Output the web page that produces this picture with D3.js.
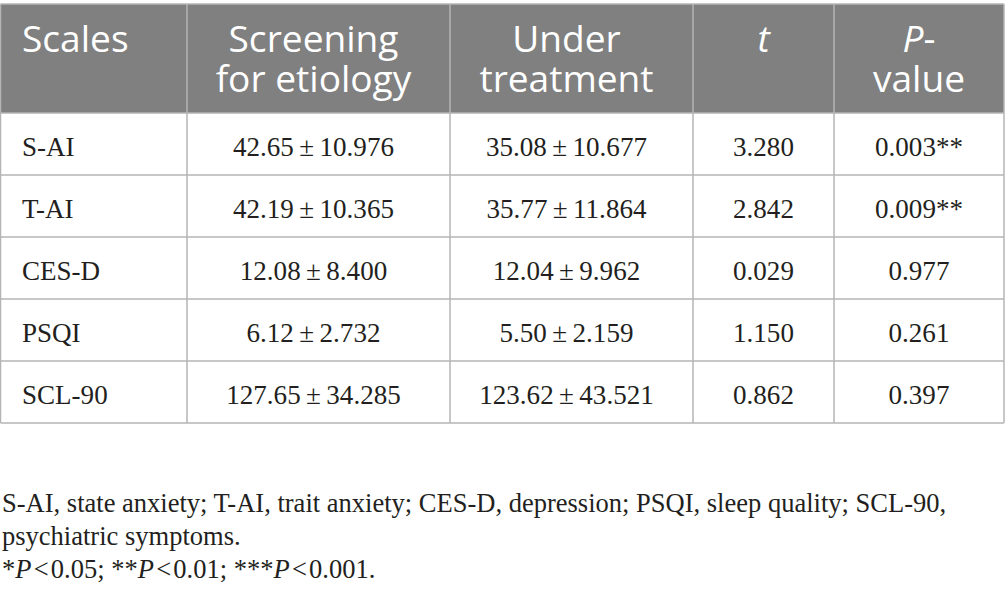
<!DOCTYPE html>
<html>
<head>
<meta charset="utf-8">
<script src="https://cdn.jsdelivr.net/npm/d3@7"></script>
<style>
  body { margin: 0; background: #fff; }
  svg { display: block; }
</style>
</head>
<body>
<svg id="svg" width="1005" height="602"></svg>
<script>
// table content
let headers = [["Scales"], ["Screening", "for etiology"], ["Under", "treatment"], ["t"], ["P-", "value"]];
let scales = ["S-AI", "T-AI", "CES-D", "PSQI", "SCL-90"];
let screening = ["42.65 ± 10.976", "42.19 ± 10.365", "12.08 ± 8.400", "6.12 ± 2.732", "127.65 ± 34.285"];
let treatment = ["35.08 ± 10.677", "35.77 ± 11.864", "12.04 ± 9.962", "5.50 ± 2.159", "123.62 ± 43.521"];
let tValues = ["3.280", "2.842", "0.029", "1.150", "0.862"];
let pValues = ["0.003**", "0.009**", "0.977", "0.261", "0.397"];
let notes = [
  "S-AI, state anxiety; T-AI, trait anxiety; CES-D, depression; PSQI, sleep quality; SCL-90,",
  "psychiatric symptoms."
];

let svg = d3.select("#svg");

let colEdges = [0.5, 187, 450, 693, 834, 1004];
let colShift = [0, -5, -5, 0, 0];
let tableTop = 4, headBottom = 113, tableBottom = 423;
let gridColor = "#b4b4b4";
let headFill = "#7f807f";
let sans = "'Open Sans', sans-serif";
let serif = "'Liberation Serif', 'Times New Roman', serif";

// size a font so a sample string gets the width seen in the picture
function fitSize(family, sample, target) {
  let probe = svg.append("text")
    .attr("font-family", family)
    .attr("font-size", 100)
    .text(sample);
  let w = probe.node().getComputedTextLength();
  probe.remove();
  return 100 * target / w;
}

let headSize = fitSize(sans, "Screening", 170);
let bodySize = fitSize(serif, "42.65\u2009±\u200910.976", 161);
let footSize = fitSize(serif, notes[0], 945);

let y = d3.scaleBand()
  .domain(scales)
  .range([headBottom, tableBottom]);

let cols = [scales, screening, treatment, tValues, pValues];
let colX = c => c === 0 ? 22 : (colEdges[c] + colEdges[c + 1]) / 2 + colShift[c];

/* Header band */
svg.append("rect")
  .attr("x", colEdges[0])
  .attr("y", tableTop)
  .attr("width", colEdges[5] - colEdges[0])
  .attr("height", headBottom - tableTop)
  .attr("fill", headFill);

/* Header labels */
headers.forEach((lines, c) => {
  let cx = colX(c);
  let txt = svg.append("text")
    .attr("text-anchor", c === 0 ? "start" : "middle")
    .attr("font-family", sans)
    .attr("font-size", headSize)
    .attr("fill", "#fff");
  lines.forEach((line, i) => {
    let ts = txt.append("tspan")
      .attr("x", cx)
      .attr("y", 52 + i * 40);
    if (line === "t") {
      ts.attr("font-style", "italic").text("t");
    } else if (line === "P-") {
      ts.append("tspan").attr("font-style", "italic").text("P");
      ts.append("tspan").text("-");
    } else {
      ts.text(line);
    }
  });
});

/* Body cells */
cols.forEach((vals, c) => {
  svg.append("g")
    .selectAll("text")
    .data(vals)
    .join("text")
    .attr("x", colX(c))
    .attr("y", (d, i) => y(scales[i]) + y.bandwidth() / 2 + 12)
    .attr("text-anchor", c === 0 ? "start" : "middle")
    .attr("font-family", serif)
    .attr("font-size", bodySize)
    .attr("fill", "#231f20")
    .text(d => d.replace(" ± ", "\u2009±\u2009"));
});

/* Grid lines */
let grid = svg.append("g")
  .attr("stroke", gridColor)
  .attr("stroke-width", 1.5)
  .attr("fill", "none");

grid.selectAll(".h")
  .data([tableTop, headBottom].concat(scales.map(s => y(s) + y.bandwidth())))
  .join("line")
  .attr("x1", colEdges[0])
  .attr("x2", colEdges[5])
  .attr("y1", d => d)
  .attr("y2", d => d);

grid.selectAll(".v")
  .data(colEdges)
  .join("line")
  .attr("x1", d => d)
  .attr("x2", d => d)
  .attr("y1", tableTop)
  .attr("y2", tableBottom);

/* Footnotes */
let foot = svg.append("g")
  .attr("font-family", serif)
  .attr("font-size", footSize)
  .attr("fill", "#231f20");

foot.selectAll("text")
  .data(notes)
  .join("text")
  .attr("x", 2)
  .attr("y", (d, i) => 512 + i * 33)
  .text(d => d);

let sig = foot.append("text")
  .attr("x", 2)
  .attr("y", 578);
[["*", ""], ["P", "i"], ["\u200A<\u200A0.05; **", ""], ["P", "i"], ["\u200A<\u200A0.01; ***", ""], ["P", "i"], ["\u200A<\u200A0.001.", ""]]
  .forEach(([s, st]) => {
    sig.append("tspan")
      .attr("font-style", st ? "italic" : null)
      .text(s);
  });
</script>
</body>
</html>
